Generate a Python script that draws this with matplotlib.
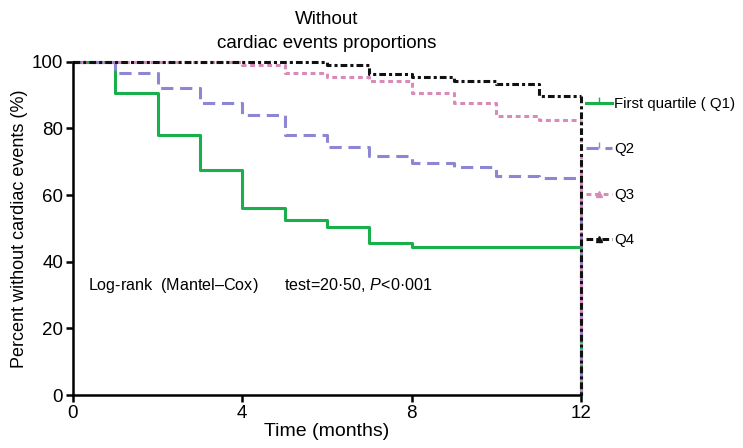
import matplotlib.pyplot as plt
from matplotlib.lines import Line2D

plt.rcParams['font.family'] = ['Liberation Sans', 'DejaVu Sans']
plt.rcParams['mathtext.fontset'] = 'custom'
plt.rcParams['mathtext.rm'] = 'Liberation Sans'
plt.rcParams['mathtext.it'] = 'Liberation Sans:italic'

# 生存曲線のデータ（月, %）
times = [0, 1, 2, 3, 4, 5, 6, 7, 8, 9, 10, 11, 12]
q1 = [100, 90.7, 78, 67.5, 56, 52.5, 50.5, 45.5, 44.3, 44.3, 44.3, 44.3, 44.3]
q2 = [100, 96.5, 92, 87.7, 84, 78, 74.3, 71.8, 69.7, 68.4, 65.8, 65, 65]
q3 = [100, 100, 100, 100, 99, 96.7, 95.5, 94.3, 90.7, 87.7, 83.8, 82.6, 82.6]
q4 = [100, 100, 100, 100, 100, 100, 99, 96.4, 95.5, 94.3, 93.4, 89.8, 89.8]

labels = ["First quartile ( Q1)", "Q2", "Q3", "Q4"]
colors = ["#19b04b", "#8d86d2", "#d88ab8", "#111111"]
styles = ["-", (0, (4, 2.2)), (0, (1.6, 1.2)), (0, (2.2, 1, 1, 1))]
markers = [2, 2, "^", "^"]

fig = plt.figure(figsize=(7.43, 4.48), dpi=100)
ax = fig.add_axes([0.098, 0.118, 0.684, 0.744])

for data, c, ls in zip([q1, q2, q3, q4], colors, styles):
    ax.step(times, data, where="post", color=c, linestyle=ls, lw=2.2, clip_on=False)
    # 12ヶ月で0まで落ちる
    ax.plot([times[-1], times[-1]], [data[-1], 0], color=c, linestyle=ls, lw=2.2,
            clip_on=False)

ax.set_xlim(0, 12)
ax.set_ylim(0, 100)
ax.set_xticks([0, 4, 8, 12])
ax.set_yticks([0, 20, 40, 60, 80, 100])
ax.tick_params(labelsize=13.5, width=1.8, length=5, pad=2)
for s in ["top", "right"]:
    ax.spines[s].set_visible(False)
for s in ["left", "bottom"]:
    ax.spines[s].set_linewidth(1.8)

ax.set_xlabel("Time (months)", fontsize=14, labelpad=1)
ax.set_ylabel("Percent without cardiac events (%)", fontsize=13, labelpad=3)
ax.set_title("Without\ncardiac events proportions", fontsize=13.5, pad=10,
             linespacing=1.5)

ax.text(0.35, 33, "Log-rank  (Mantel\u2013Cox)      test=20\u00b750, $P$<0\u00b7001",
        fontsize=11.6, va="center")

handles = [Line2D([], [], color=c, linestyle=ls, lw=2.2, marker=m, markersize=4)
           for c, ls, m in zip(colors, styles, markers)]
fig.legend(handles, labels, loc="upper left", bbox_to_anchor=(0.781, 0.797),
           frameon=False, fontsize=10.8, handlelength=1.7, handletextpad=0.15,
           labelspacing=2.1, borderaxespad=0)

fig.savefig("out.png", dpi=100)
